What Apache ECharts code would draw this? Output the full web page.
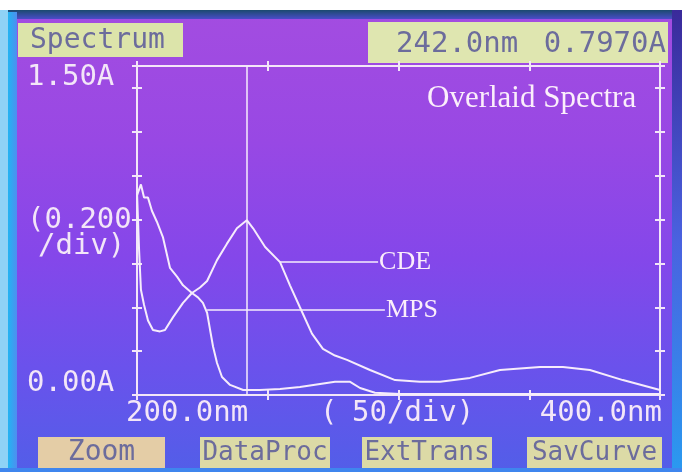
<!DOCTYPE html>
<html>
<head>
<meta charset="utf-8">
<script src="https://cdn.jsdelivr.net/npm/echarts@6/dist/echarts.min.js"></script>
<style>
  html, body { margin: 0; padding: 0; background: #fff; }
  #screen {
    width: 682px;
    height: 472px;
    background: linear-gradient(180deg, #a44de0 0%, #9848e4 30%, #8447ea 55%, #6a52ec 78%, #525ee8 100%);
  }
</style>
</head>
<body>
<div id="screen"></div>
<script>
// wavelengths (nm) and absorbance (A)
const cdeNm  = [200, 200.8, 201.5, 202.7, 204.2, 206.1, 208.8, 210.7, 213.8, 217.6, 221.0, 224.1, 226.8, 230.6, 234.4, 238.2, 242, 244.4, 249.0, 254.7, 258.5, 262.3, 266.9, 271.1, 275.7, 280.3, 289.1, 298.7, 308.2, 315.9, 327.3, 338.8, 354.1, 362.9, 373.2, 385.8, 400];
const cdeAbs = [0.925, 0.66, 0.48, 0.41, 0.34, 0.296, 0.29, 0.296, 0.355, 0.42, 0.465, 0.49, 0.52, 0.615, 0.69, 0.76, 0.797, 0.76, 0.675, 0.606, 0.50, 0.40, 0.28, 0.21, 0.18, 0.16, 0.114, 0.068, 0.06, 0.06, 0.078, 0.114, 0.128, 0.128, 0.114, 0.068, 0.023];

const mpsNm  = [200, 201.5, 202.7, 204.2, 205.7, 207.6, 209.9, 212.6, 215.3, 217.6, 221.0, 223.3, 225.2, 226.8, 227.9, 229.1, 230.6, 232.5, 235.6, 240.6, 247.0, 254.7, 262.3, 270.0, 275.7, 281.5, 285.3, 291.0, 300.6, 338.8, 400];
const mpsAbs = [0.91, 0.96, 0.90, 0.90, 0.84, 0.79, 0.72, 0.58, 0.54, 0.50, 0.465, 0.445, 0.42, 0.375, 0.30, 0.22, 0.146, 0.082, 0.046, 0.023, 0.023, 0.027, 0.036, 0.05, 0.06, 0.06, 0.032, 0.01, 0.005, 0.005, 0.005];

const cursorNm = 242;
const headerLabels = ['Spectrum', '242.0nm', '0.7970A'];
const yLabels = ['1.50A', '(0.200', '/div)', '0.00A'];
const xLabels = ['200.0nm', '(', '50/div)', '400.0nm'];
const buttons = ['Zoom', 'DataProc', 'ExtTrans', 'SavCurve'];

const ink = '#f3e6f8';
const boxInk = '#6c6c9c';
const mono = '"DejaVu Sans Mono", "Liberation Mono", monospace';
const serif = '"Liberation Serif", "DejaVu Serif", serif';

function pairs(xs, ys) {
  return xs.map((x, i) => [x, ys[i]]);
}

function xAx(pos, inside) {
  return {
    type: 'value', min: 200, max: 400, interval: 50, position: pos,
    axisLine: { show: true, onZero: false, lineStyle: { color: ink, width: 2 } },
    axisTick: { show: true, inside: inside, length: 5, lineStyle: { color: ink, width: 2 } },
    axisLabel: { show: false },
    splitLine: { show: false }
  };
}
function yAx(pos, inside) {
  return {
    type: 'value', min: 0, max: 1.5, interval: 0.2, position: pos,
    axisLine: { show: true, onZero: false, lineStyle: { color: ink, width: 2 } },
    axisTick: { show: true, inside: inside, length: 5, lineStyle: { color: ink, width: 2 } },
    axisLabel: { show: false },
    splitLine: { show: false }
  };
}

function monoText(x, y, str, opts) {
  return {
    type: 'text', x: x, y: y, silent: true,
    style: Object.assign({
      text: str, fill: ink, font: '29px ' + mono,
      textAlign: 'left', textVerticalAlign: 'middle'
    }, opts || {})
  };
}

const btnX = [38, 200, 362, 527];
const btnW = [127, 130, 130, 135];
const graphics = [
  // photo edges
  { type: 'rect', shape: { x: 0, y: 0, width: 682, height: 10 }, style: { fill: '#ffffff' }, silent: true },
  { type: 'rect', shape: { x: 0, y: 10, width: 682, height: 9 }, silent: true,
    style: { fill: new echarts.graphic.LinearGradient(0, 0, 0, 1, [
      { offset: 0, color: '#1b4a6e' }, { offset: 1, color: '#4a4cc8' }]) } },
  { type: 'rect', shape: { x: 0, y: 10, width: 8, height: 462 }, style: { fill: '#8fd2f6' }, silent: true },
  { type: 'rect', shape: { x: 8, y: 12, width: 9, height: 460 }, silent: true,
    style: { fill: new echarts.graphic.LinearGradient(1, 0, 0, 0, [
      { offset: 0, color: '#4f8ef0' }, { offset: 1, color: '#22b4f2' }]) } },
  { type: 'rect', shape: { x: 672, y: 10, width: 10, height: 462 }, silent: true,
    style: { fill: new echarts.graphic.LinearGradient(0, 0, 0, 1, [
      { offset: 0, color: '#3a2a9a' }, { offset: 0.5, color: '#4a62e0' }, { offset: 1, color: '#2a9af0' }]) } },
  { type: 'rect', shape: { x: 0, y: 468, width: 682, height: 4 }, style: { fill: '#3f86ee' }, silent: true },
  // header boxes
  { type: 'rect', shape: { x: 18, y: 23, width: 165, height: 34 }, style: { fill: '#dce4aa' }, silent: true },
  { type: 'rect', shape: { x: 368, y: 22, width: 300, height: 41 }, style: { fill: '#dfe6b0' }, silent: true },
  monoText(30, 41, headerLabels[0], { fill: boxInk, font: '28px ' + mono }),
  monoText(396, 44, headerLabels[1], { fill: boxInk, font: '29px ' + mono }),
  monoText(666, 44, headerLabels[2], { fill: boxInk, font: '29px ' + mono, textAlign: 'right' }),
  // y labels
  monoText(27, 77, yLabels[0]),
  monoText(27, 220, yLabels[1]),
  monoText(38, 246, yLabels[2]),
  monoText(27, 383, yLabels[3]),
  // x labels
  monoText(126, 413, xLabels[0]),
  monoText(320, 413, xLabels[1]),
  monoText(352, 413, xLabels[2]),
  monoText(662, 413, xLabels[3], { textAlign: 'right' }),
  // overlay title
  { type: 'text', x: 427, y: 99, silent: true,
    style: { text: 'Overlaid Spectra', fill: '#fbeefb', font: '31px ' + serif, textVerticalAlign: 'middle' } }
];
buttons.forEach((b, i) => {
  graphics.push({ type: 'rect', shape: { x: btnX[i], y: 437, width: btnW[i], height: 31 },
    style: { fill: i === 0 ? '#e4cda6' : '#dcdaa6' }, silent: true });
  graphics.push(monoText(btnX[i] + btnW[i] / 2, 453, b,
    { fill: boxInk, textAlign: 'center', font: (i === 0 ? '28px ' : '26px ') + mono }));
});

const chart = echarts.init(document.getElementById('screen'), null, { renderer: 'canvas' });

const lineStyle = { color: '#f6ecfc', width: 2 };
const option = {
  backgroundColor: 'transparent',
  animation: false,
  grid: { left: 137, right: 22, top: 66, bottom: 77 },
  xAxis: [xAx('bottom', true), xAx('bottom', false), xAx('top', true), xAx('top', false)],
  yAxis: [yAx('left', true), yAx('left', false), yAx('right', true), yAx('right', false)],
  graphic: graphics,
  series: [
    {
      name: 'CDE', type: 'line', xAxisIndex: 0, yAxisIndex: 0,
      data: pairs(cdeNm, cdeAbs), showSymbol: false, symbol: 'none',
      lineStyle: lineStyle,
      markLine: {
        silent: true, symbol: 'none', animation: false,
        data: [
          { xAxis: cursorNm, lineStyle: { color: '#f6ecfc', width: 1.5, type: 'solid' }, label: { show: false } },
          [
            { coord: [254.7, 0.606] },
            { coord: [292.2, 0.606] }
          ]
        ],
        lineStyle: { color: '#f6ecfc', width: 1.5, type: 'solid' },
        label: { show: true, position: 'end', distance: 1, formatter: 'CDE', color: '#fbeefb',
          fontFamily: serif, fontSize: 26 }
      }
    },
    {
      name: 'MPS', type: 'line', xAxisIndex: 0, yAxisIndex: 0,
      data: pairs(mpsNm, mpsAbs), showSymbol: false, symbol: 'none',
      lineStyle: lineStyle,
      markLine: {
        silent: true, symbol: 'none', animation: false,
        data: [[
          { coord: [226.8, 0.388] },
          { coord: [294.8, 0.388] }
        ]],
        lineStyle: { color: '#f6ecfc', width: 1.5, type: 'solid' },
        label: { show: true, position: 'end', distance: 1, formatter: 'MPS', color: '#fbeefb',
          fontFamily: serif, fontSize: 26, padding: [0, 0, 16, 0] }
      }
    }
  ]
};
chart.setOption(option);
</script>
</body>
</html>
